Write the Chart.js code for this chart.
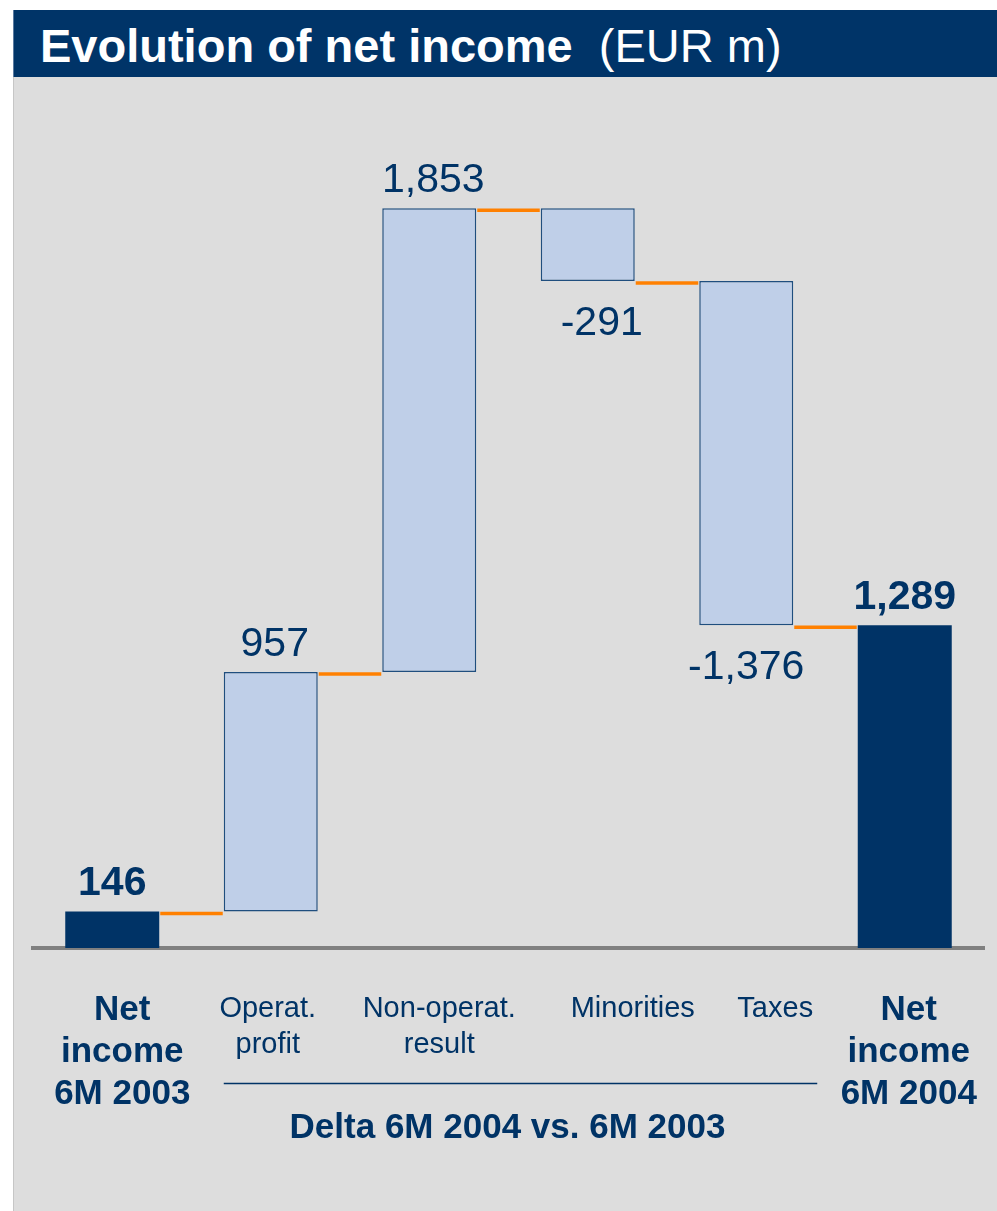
<!DOCTYPE html>
<html><head><meta charset="utf-8">
<script src="https://cdn.jsdelivr.net/npm/chart.js@4/dist/chart.umd.min.js"></script>
<style>
html,body{margin:0;padding:0;background:#fff;}
body{width:997px;height:1211px;position:relative;overflow:hidden;font-family:"Liberation Sans",Arial,sans-serif;}
#panel{position:absolute;left:13px;top:77px;width:984px;height:1134px;background:#dddddd;border-left:1px solid #c6c6c6;box-sizing:border-box;}
#titlebar{position:absolute;left:13px;top:10px;width:984px;height:67px;background:#003468;border-left:1px solid #5a7aa0;box-sizing:border-box;}
#title{position:absolute;left:40px;top:22px;color:#fff;font-size:47px;line-height:47px;white-space:pre;}
#title b{font-weight:bold;}
#chart{position:absolute;left:0;top:0;}
</style>
</head><body>
<div id="panel"></div>
<div id="titlebar"></div>
<div id="title"><b>Evolution of net income</b>  (EUR m)</div>
<canvas id="chart" width="997" height="1211"></canvas>
<script>
// ---- data ----
const categories = [['Net','income','6M 2003'], ['Operat.','profit'], ['Non-operat.','result'], ['Minorities'], ['Taxes'], ['Net','income','6M 2004']];
const startTotal = [146];
const deltas = [957, 1853, -291, -1376];
const endTotal = [1289];
const isTotal = [true, false, false, false, false, true];
const deltaCaption = 'Delta 6M 2004 vs. 6M 2003';

// ---- build floating ranges from the values ----
const values = [...startTotal, ...deltas, ...endTotal];
const ranges = [];
const levels = [];
let run = 0;
values.forEach((v, i) => {
  if (isTotal[i]) { ranges.push([0, v]); run = v; }
  else { ranges.push([run, run + v]); run += v; }
  levels.push(run);
});

const FAMILY = '"Liberation Sans", Arial, sans-serif';
const NAVY = '#003366';
// horizontal nudges of the category captions relative to their bars (layout only)
const captionShift = [10, -3, 10, 45, 29, 4];

const waterfallPlugin = {
  id: 'waterfall',
  afterDatasetsDraw(chart) {
    const ctx = chart.ctx;
    const meta = chart.getDatasetMeta(0);
    const ys = chart.scales.y;
    const xs = chart.scales.x;
    const bars = meta.data.map(b => b.getProps(['x', 'width'], true));
    ctx.save();
    // connectors
    ctx.strokeStyle = '#ff8000';
    ctx.lineWidth = 3.5;
    for (let i = 0; i < bars.length - 1; i++) {
      const py = ys.getPixelForValue(levels[i]) + 2;
      ctx.beginPath();
      ctx.moveTo(bars[i].x + bars[i].width / 2 + 1, py);
      ctx.lineTo(bars[i + 1].x - bars[i + 1].width / 2 - 1, py);
      ctx.stroke();
    }
    // value labels
    ctx.fillStyle = NAVY;
    ctx.textAlign = 'center';
    ctx.textBaseline = 'alphabetic';
    values.forEach((v, i) => {
      ctx.font = (isTotal[i] ? 'bold ' : '') + '41px ' + FAMILY;
      const r = ranges[i];
      const txt = v.toLocaleString('en-US');
      if (v >= 0) {
        const top = ys.getPixelForValue(Math.max(r[0], r[1]));
        ctx.fillText(txt, bars[i].x + (isTotal[i] ? 0 : 4), top - 16);
      } else {
        const bot = ys.getPixelForValue(Math.min(r[0], r[1]));
        ctx.fillText(txt, bars[i].x + (i === 3 ? 14 : 0), bot + 54);
      }
    });
    // category captions, positioned from the x scale
    ctx.textBaseline = 'middle';
    const axisTop = xs.top;
    categories.forEach((lines, i) => {
      const cx = xs.getPixelForValue(i) + captionShift[i];
      if (isTotal[i]) {
        ctx.font = 'bold 35px ' + FAMILY;
        lines.forEach((ln, k) => ctx.fillText(ln, cx, axisTop + 62 + k * 42));
      } else {
        ctx.font = '29px ' + FAMILY;
        lines.forEach((ln, k) => ctx.fillText(ln, cx, axisTop + 61 + k * 36));
      }
    });
    // delta bracket line + caption
    ctx.textBaseline = 'alphabetic';
    const left = bars[1].x - bars[1].width / 2;
    const right = bars[4].x + bars[4].width / 2 + 24;
    ctx.strokeStyle = NAVY;
    ctx.lineWidth = 1.6;
    ctx.beginPath();
    ctx.moveTo(left, 1083.5);
    ctx.lineTo(right, 1083.5);
    ctx.stroke();
    ctx.font = 'bold 35px ' + FAMILY;
    ctx.fillText(deltaCaption, (left + right) / 2 - 13, 1138);
    ctx.restore();
  }
};

new Chart(document.getElementById('chart'), {
  type: 'bar',
  data: {
    labels: categories,
    datasets: [{
      data: ranges,
      backgroundColor: isTotal.map(t => t ? '#003366' : '#bfcfe8'),
      borderColor: isTotal.map(t => t ? '#003366' : '#1f4e7e'),
      borderWidth: isTotal.map(t => t ? 0 : 1.5),
      borderSkipped: false,
      barPercentage: 0.593,
      categoryPercentage: 1.0
    }]
  },
  options: {
    responsive: false,
    animation: false,
    devicePixelRatio: 1,
    layout: { padding: { left: 33, right: 13, top: 97, bottom: 0 } },
    plugins: { legend: { display: false }, tooltip: { enabled: false }, title: { display: false } },
    scales: {
      x: {
        grid: { display: false, drawTicks: false },
        border: { display: true, color: '#808080', width: 4 },
        ticks: { display: false },
        afterFit: (s) => { s.height = 263; s.paddingLeft = 0; s.paddingRight = 0; }
      },
      y: { display: false, min: 0, max: 3400 }
    }
  },
  plugins: [waterfallPlugin]
});
</script>
</body></html>
